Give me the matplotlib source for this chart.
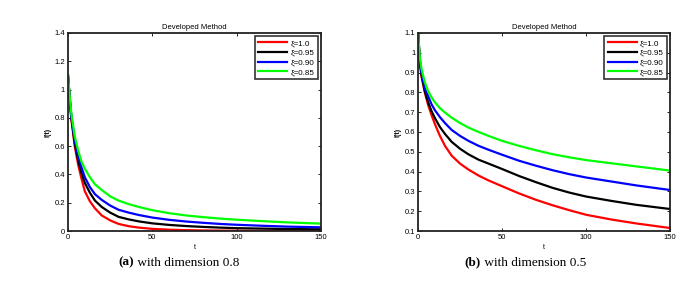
import numpy as np
import matplotlib
matplotlib.use("Agg")
import matplotlib.pyplot as plt

plt.rcParams['font.family'] = ['Liberation Sans', 'DejaVu Sans']

# time points
t = [0, 1, 2, 4, 6, 8, 10, 13, 16, 20, 25, 30, 36, 42, 50, 60, 70, 80, 90, 100, 115, 130, 150]

labels = ['\u03be=1.0', '\u03be=0.95', '\u03be=0.90', '\u03be=0.85']
colors = ['#ff0000', '#000000', '#0000ff', '#00ff00']

# (a) dimension 0.8
a_red = [1.1, 0.93, 0.79, 0.6, 0.47, 0.37, 0.28, 0.21, 0.16, 0.11, 0.075, 0.05, 0.034, 0.024,
         0.015, 0.009, 0.006, 0.004, 0.003, 0.002, 0.001, 0.001, 0.0]
a_black = [1.1, 0.94, 0.8, 0.62, 0.5, 0.41, 0.34, 0.27, 0.215, 0.17, 0.13, 0.1, 0.082, 0.068,
           0.054, 0.043, 0.035, 0.029, 0.024, 0.02, 0.017, 0.014, 0.012]
a_blue = [1.1, 0.95, 0.81, 0.64, 0.53, 0.45, 0.38, 0.31, 0.26, 0.22, 0.18, 0.15, 0.13, 0.113,
          0.095, 0.079, 0.067, 0.058, 0.05, 0.044, 0.037, 0.031, 0.026]
a_green = [1.1, 0.96, 0.83, 0.67, 0.57, 0.49, 0.44, 0.38, 0.33, 0.29, 0.245, 0.215, 0.19, 0.17,
           0.147, 0.126, 0.11, 0.098, 0.088, 0.08, 0.07, 0.061, 0.052]

# (b) dimension 0.5
b_red = [1.1, 0.95, 0.88, 0.8, 0.735, 0.685, 0.64, 0.58, 0.53, 0.48, 0.44, 0.41, 0.38, 0.355,
         0.326, 0.29, 0.258, 0.23, 0.205, 0.182, 0.158, 0.138, 0.115]
b_black = [1.1, 0.96, 0.89, 0.805, 0.75, 0.705, 0.67, 0.625, 0.59, 0.55, 0.515, 0.487, 0.46, 0.44,
           0.413, 0.378, 0.347, 0.318, 0.294, 0.274, 0.252, 0.232, 0.211]
b_blue = [1.1, 0.97, 0.9, 0.82, 0.78, 0.74, 0.71, 0.675, 0.645, 0.61, 0.58, 0.555, 0.53, 0.51,
          0.485, 0.455, 0.43, 0.407, 0.387, 0.37, 0.35, 0.33, 0.307]
b_green = [1.1, 0.98, 0.92, 0.85, 0.805, 0.775, 0.75, 0.72, 0.698, 0.672, 0.645, 0.622, 0.6, 0.58,
           0.555, 0.53, 0.508, 0.488, 0.472, 0.458, 0.442, 0.426, 0.405]

a_yticks = [0, 0.2, 0.4, 0.6, 0.8, 1, 1.2, 1.4]
a_ylabels = ['0', '0.2', '0.4', '0.6', '0.8', '1', '1.2', '1.4']
b_yticks = [0.1, 0.2, 0.3, 0.4, 0.5, 0.6, 0.7, 0.8, 0.9, 1, 1.1]
b_ylabels = ['0.1', '0.2', '0.3', '0.4', '0.5', '0.6', '0.7', '0.8', '0.9', '1', '1.1']
xticks = [0, 50, 100, 150]

fig = plt.figure(figsize=(6.98, 2.93), dpi=100)
ax1 = fig.add_axes([0.0974, 0.2116, 0.3625, 0.676])
ax2 = fig.add_axes([0.599, 0.2116, 0.361, 0.676])


def draw(ax, series, ylim, yticks, ylabels):
    for ys, c, lab in zip(series, colors, labels):
        ax.plot(t, ys, color=c, lw=1.6, label=lab)
    ax.set_xlim(0, 150)
    ax.set_ylim(*ylim)
    ax.set_xticks(xticks)
    ax.set_xticklabels([str(v) for v in xticks])
    ax.set_yticks(yticks)
    ax.set_yticklabels(ylabels)
    ax.tick_params(direction='in', labelsize=5.5, length=2.5, width=0.6, pad=2,
                   top=True, right=True)
    for s in ax.spines.values():
        s.set_linewidth(1.3)
        s.set_color('#222222')
    ax.set_title('Developed Method', fontsize=5.5, pad=3)
    ax.set_xlabel('t', fontsize=5, labelpad=2)
    ax.set_ylabel('I(t)', fontsize=5, labelpad=2, fontweight='bold')
    leg = ax.legend(loc='upper right', fontsize=5.8, handlelength=3.6, handletextpad=0.4,
                    borderpad=0.4, labelspacing=0.25, fancybox=False,
                    borderaxespad=0.4)
    leg.get_frame().set_edgecolor('black')
    leg.get_frame().set_linewidth(1.2)


draw(ax1, [a_red, a_black, a_blue, a_green], (0, 1.4), a_yticks, a_ylabels)
draw(ax2, [b_red, b_black, b_blue, b_green], (0.1, 1.1), b_yticks, b_ylabels)

cap_font = ['Liberation Serif', 'DejaVu Serif']
fig.text(134 / 698, 0.104, '(a)', ha='right', va='center', fontsize=9.5,
         fontweight='bold', family=cap_font)
fig.text(134 / 698, 0.104, ' with dimension 0.8', ha='left', va='center', fontsize=9.5,
         family=cap_font)
fig.text(481 / 698, 0.104, '(b)', ha='right', va='center', fontsize=9.5,
         fontweight='bold', family=cap_font)
fig.text(481 / 698, 0.104, ' with dimension 0.5', ha='left', va='center', fontsize=9.5,
         family=cap_font)

fig.savefig('out.png', dpi=100)
